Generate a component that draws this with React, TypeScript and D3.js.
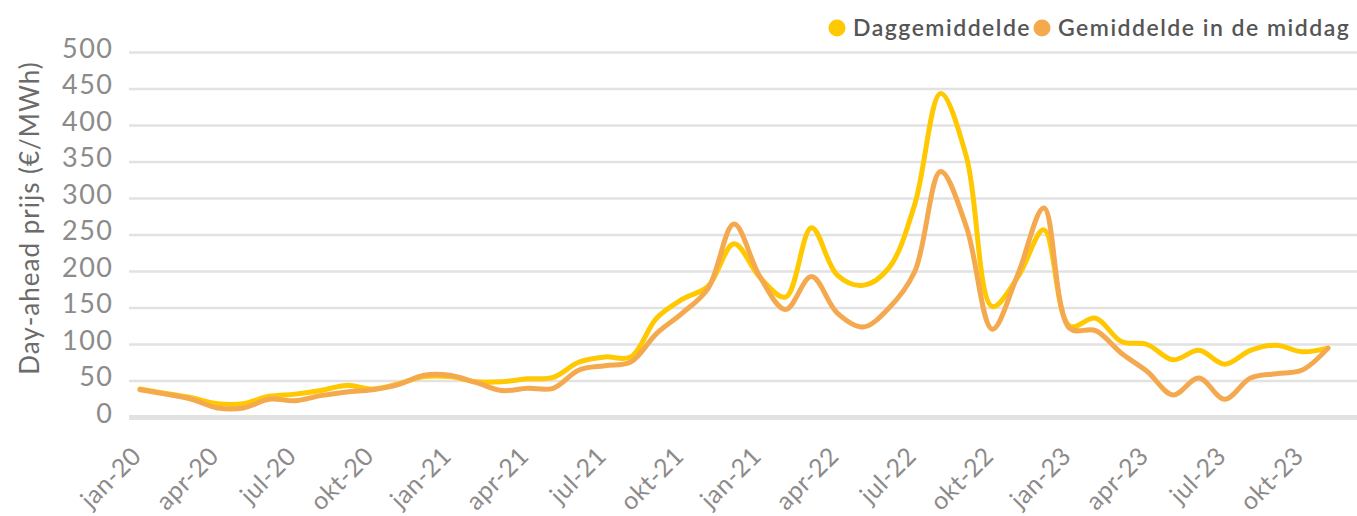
import React, { useEffect, useRef } from 'react'
import * as d3 from 'd3'

// maandelijkse day-ahead prijzen, jan-20 t/m nov-23
const months = [
  'jan-20', 'feb-20', 'mrt-20', 'apr-20', 'mei-20', 'jun-20', 'jul-20', 'aug-20', 'sep-20', 'okt-20', 'nov-20', 'dec-20',
  'jan-21', 'feb-21', 'mrt-21', 'apr-21', 'mei-21', 'jun-21', 'jul-21', 'aug-21', 'sep-21', 'okt-21', 'nov-21', 'dec-21',
  'jan-22', 'feb-22', 'mrt-22', 'apr-22', 'mei-22', 'jun-22', 'jul-22', 'aug-22', 'sep-22', 'okt-22', 'nov-22', 'dec-22',
  'jan-23', 'feb-23', 'mrt-23', 'apr-23', 'mei-23', 'jun-23', 'jul-23', 'aug-23', 'sep-23', 'okt-23', 'nov-23',
]

const daggemiddelde = [
  39, 33, 27, 19, 19, 29, 32, 37, 44, 39, 46, 56,
  56, 49, 49, 53, 55, 76, 83, 83, 136, 162, 180, 238,
  192, 165, 260, 195, 181, 205, 292, 444, 357, 152, 193, 257,
  125, 136, 104, 100, 79, 92, 73, 92, 99, 90, 95,
]

const middag = [
  38, 32, 25, 13, 13, 25, 23, 30, 35, 38, 45, 58,
  58, 48, 37, 40, 40, 65, 71, 76, 115, 143, 177, 265,
  193, 148, 193, 143, 124, 150, 200, 337, 261, 121, 197, 287,
  122, 119, 88, 63, 31, 54, 25, 54, 60, 65, 95,
]

// labels zoals in het origineel (incl. 'jan-21' op de plek van jan-22)
const tickLabels = [
  'jan-20', 'apr-20', 'jul-20', 'okt-20', 'jan-21', 'apr-21', 'jul-21', 'okt-21',
  'jan-21', 'apr-22', 'jul-22', 'okt-22', 'jan-23', 'apr-23', 'jul-23', 'okt-23',
]

const yTicks = [0, 50, 100, 150, 200, 250, 300, 350, 400, 450, 500]

const seriesNames = ['Daggemiddelde', 'Gemiddelde in de middag']
const colors = ['#ffc800', '#f4a94f']

const font = 'Lato, "Open Sans", sans-serif'

function App() {
  const svgRef = useRef<SVGSVGElement>(null)

  useEffect(() => {
    const width = 1357
    const height = 516
    const svg = d3.select(svgRef.current)
      .attr('width', width)
      .attr('height', height)
      .style('font-family', font)

    svg.selectAll('*').remove()

    const x = d3.scalePoint<string>()
      .domain(months)
      .range([140, 1328])

    const y = d3.scaleLinear()
      .domain([0, 500])
      .range([417.5, 52.5])

    // rasterlijnen
    svg.append('g')
      .selectAll('line')
      .data(yTicks)
      .join('line')
      .attr('x1', 129)
      .attr('x2', width)
      .attr('y1', d => y(d))
      .attr('y2', d => y(d))
      .attr('stroke', '#e2e2e2')
      .attr('stroke-width', d => d === 0 ? 5 : 2.5)

    // y-as
    const yAxis = d3.axisLeft(y)
      .tickValues(yTicks)
      .tickSize(0)
      .tickPadding(0)
    svg.append('g')
      .attr('transform', 'translate(113.5, -4)')
      .call(yAxis)
      .call(g => g.select('.domain').remove())
      .selectAll('text')
      .attr('font-size', 27)
      .attr('letter-spacing', 1.5)
      .attr('font-family', font)
      .attr('fill', '#8d8a8a')

    // x-as
    const xAxis = d3.axisBottom(x)
      .tickValues(months.filter((m, i) => i % 3 === 0))
      .tickFormat((d, i) => tickLabels[i])
      .tickSize(0)
    svg.append('g')
      .attr('transform', 'translate(0, 460)')
      .call(xAxis)
      .call(g => g.select('.domain').remove())
      .selectAll('text')
      .attr('x', 3.5)
      .attr('y', 0)
      .attr('dy', 0)
      .attr('text-anchor', 'end')
      .attr('transform', 'rotate(-45)')
      .attr('font-size', 25)
      .attr('letter-spacing', 0.5)
      .attr('font-family', font)
      .attr('fill', '#8d8a8a')

    // as-titel
    svg.append('text')
      .attr('transform', 'translate(39, 218) rotate(-90)')
      .attr('text-anchor', 'middle')
      .attr('font-size', 26)
      .attr('letter-spacing', 1)
      .attr('fill', '#6b6b6b')
      .text('Day-ahead prijs (€/MWh)')

    // lijnen
    const line = d3.line<number>()
      .x((d, i) => x(months[i]) as number)
      .y(d => y(d))
      .curve(d3.curveCatmullRom.alpha(0.5))

    svg.selectAll('.serie')
      .data([daggemiddelde, middag])
      .join('path')
      .attr('class', 'serie')
      .attr('d', d => line(d))
      .attr('fill', 'none')
      .attr('stroke', (d, i) => colors[i])
      .attr('stroke-width', 5)
      .attr('stroke-linecap', 'round')
      .attr('stroke-linejoin', 'round')

    // legenda
    const legendX = [837, 1042]
    const legend = svg.append('g')
      .selectAll('g')
      .data(seriesNames)
      .join('g')
      .attr('transform', (d, i) => `translate(${legendX[i]}, 28)`)
    legend.append('circle')
      .attr('r', 8.5)
      .attr('fill', (d, i) => colors[i])
    legend.append('text')
      .attr('x', 16)
      .attr('y', 7.5)
      .attr('font-size', 23)
      .attr('font-weight', 600)
      .attr('letter-spacing', 1.5)
      .attr('fill', '#555555')
      .text(d => d)
  }, [])

  return (
    <div className='App'>
      <svg ref={svgRef} style={{ position: 'absolute', left: 0, top: 0 }}></svg>
    </div>
  )
}

export default App
